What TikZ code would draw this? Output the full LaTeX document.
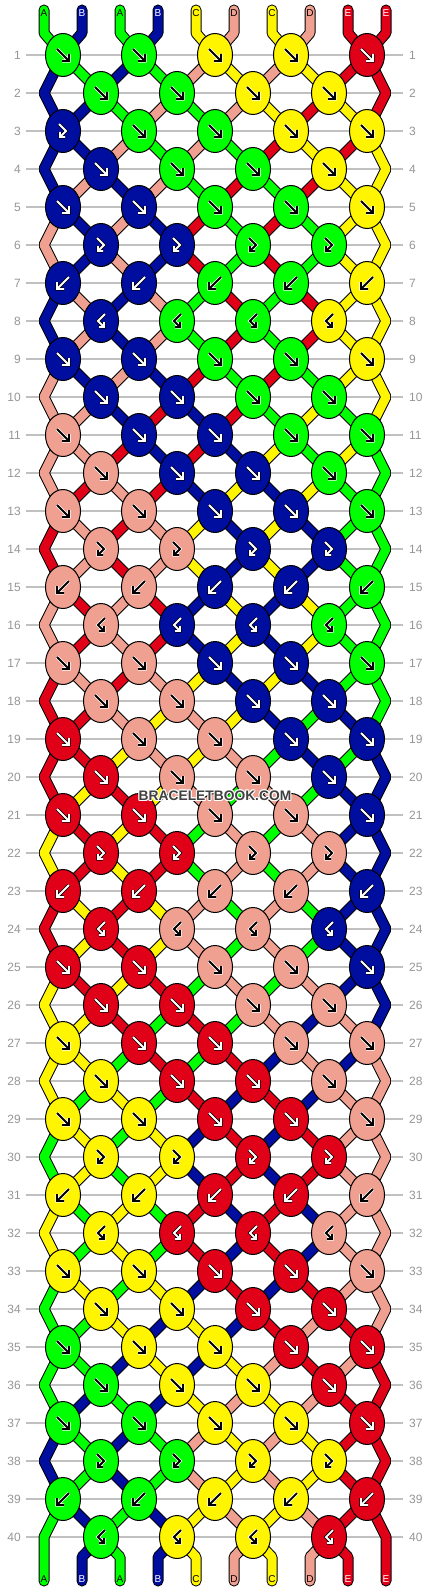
\documentclass[tikz,border=0pt]{standalone}
\usepackage{fontspec}
\setmainfont{Liberation Sans}
\usetikzlibrary{shapes.geometric}
\definecolor{cG}{RGB}{0,255,0}
\definecolor{cN}{RGB}{0,14,160}
\definecolor{cY}{RGB}{255,245,0}
\definecolor{cS}{RGB}{240,160,144}
\definecolor{cR}{RGB}{224,0,24}
\definecolor{aG}{RGB}{0,0,0}
\definecolor{aN}{RGB}{255,255,255}
\definecolor{aY}{RGB}{0,0,0}
\definecolor{aS}{RGB}{0,0,0}
\definecolor{aR}{RGB}{255,255,255}
\definecolor{hG}{RGB}{255,255,255}
\definecolor{hN}{RGB}{0,0,0}
\definecolor{hY}{RGB}{255,255,255}
\definecolor{hS}{RGB}{255,255,255}
\definecolor{hR}{RGB}{0,0,0}
\definecolor{gridgray}{RGB}{192,192,192}
\definecolor{numgray}{RGB}{150,150,150}
\definecolor{wmgray}{RGB}{64,64,64}
\tikzset{
  knot/.style={ellipse, draw=black, line width=1pt, fill=c#1, minimum width=35pt, minimum height=43pt, inner sep=0pt},
  rownum/.style={text=numgray, font=\fontsize{12}{12}\selectfont, inner sep=0pt},
  strlabel/.style={text=a#1, font=\fontsize{10}{10}\selectfont, inner sep=0pt},
  gridline/.style={draw=gridgray, line width=1.2pt},
  wm/.style={font=\bfseries\fontsize{13.8}{14}\selectfont, inner sep=0pt},
}
\newcommand\gpF[1]{\draw[#1] (-6,-6) -- (5,5) (-1,6) -- (6,6) -- (6,-1);}
\newcommand\gpB[1]{\draw[#1] (6,-6) -- (-5,5) (1,6) -- (-6,6) -- (-6,-1);}
\newcommand\gpf[1]{\draw[#1] (-4,-7) -- (3,0) -- (-3,6) (2,6) -- (-3,6) -- (-3,1);}
\newcommand\gpb[1]{\draw[#1] (4,-7) -- (-3,0) -- (3,6) (-2,6) -- (3,6) -- (3,1);}
\newcommand\kglyph[3]{\begin{scope}[shift={(#1)}]%
  \csname gp#2\endcsname{line width=3.4pt, draw=h#3}%
  \csname gp#2\endcsname{line width=1.8pt, draw=a#3}%
  \end{scope}}
\newcommand\drawthreads{%
  \foreach \c [count=\p] in {G,N,G,N,Y,S,Y,S,R,R}{%
    \pgfmathtruncatemacro\ka{(\p+1)/2}%
    \draw[thr=\c] (U-\p) -- (T-\p) -- (P-1-\ka);
  }%
  \foreach \r/\st in {1/{N,G,N,G,S,Y,S,Y,R,R},2/{N,N,G,S,G,S,Y,R,Y,R},3/{N,N,S,G,S,G,R,Y,R,Y},4/{N,S,N,S,G,R,G,R,Y,Y},5/{S,N,S,N,R,G,R,G,Y,Y},6/{S,N,S,N,R,G,R,G,Y,Y},7/{N,S,N,S,G,R,G,R,Y,Y},8/{N,S,N,S,G,R,G,R,Y,Y},9/{S,N,S,N,R,G,R,G,Y,Y},10/{S,S,N,R,N,R,G,Y,G,Y},11/{S,S,R,N,R,N,Y,G,Y,G},12/{S,R,S,R,N,Y,N,Y,G,G},13/{R,S,R,S,Y,N,Y,N,G,G},14/{R,S,R,S,Y,N,Y,N,G,G},15/{S,R,S,R,N,Y,N,Y,G,G},16/{S,R,S,R,N,Y,N,Y,G,G},17/{R,S,R,S,Y,N,Y,N,G,G},18/{R,R,S,Y,S,Y,N,G,N,G},19/{R,R,Y,S,Y,S,G,N,G,N},20/{R,Y,R,Y,S,G,S,G,N,N},21/{Y,R,Y,R,G,S,G,S,N,N},22/{Y,R,Y,R,G,S,G,S,N,N},23/{R,Y,R,Y,S,G,S,G,N,N},24/{R,Y,R,Y,S,G,S,G,N,N},25/{Y,R,Y,R,G,S,G,S,N,N},26/{Y,Y,R,G,R,G,S,N,S,N},27/{Y,Y,G,R,G,R,N,S,N,S},28/{Y,G,Y,G,R,N,R,N,S,S},29/{G,Y,G,Y,N,R,N,R,S,S},30/{G,Y,G,Y,N,R,N,R,S,S},31/{Y,G,Y,G,R,N,R,N,S,S},32/{Y,G,Y,G,R,N,R,N,S,S},33/{G,Y,G,Y,N,R,N,R,S,S},34/{G,G,Y,N,Y,N,R,S,R,S},35/{G,G,N,Y,N,Y,S,R,S,R},36/{G,N,G,N,Y,S,Y,S,R,R},37/{N,G,N,G,S,Y,S,Y,R,R},38/{N,G,N,G,S,Y,S,Y,R,R},39/{G,N,G,N,Y,S,Y,S,R,R}}{%
    \pgfmathtruncatemacro\rn{\r+1}%
    \pgfmathtruncatemacro\rnn{\r+2}%
    \foreach \c [count=\p] in \st {%
      \ifodd\r\relax
        \pgfmathtruncatemacro\ka{(\p+1)/2}%
        \ifnum\p=1\relax
          \ifnum\r=39\relax \def\nxt{W-1}\else\edef\nxt{P-\rnn-1}\fi
          \draw[thr=\c] (P-\r-1) -- (L-\rn) -- (\nxt);
        \else\ifnum\p=10\relax
          \ifnum\r=39\relax \def\nxt{W-10}\else\edef\nxt{P-\rnn-5}\fi
          \draw[thr=\c] (P-\r-5) -- (R-\rn) -- (\nxt);
        \else
          \pgfmathtruncatemacro\kb{\p/2}%
          \draw[thr=\c] (P-\r-\ka) -- (P-\rn-\kb);
        \fi\fi
      \else
        \ifnum\p>1\relax\ifnum\p<10\relax
          \pgfmathtruncatemacro\ka{\p/2}%
          \pgfmathtruncatemacro\kb{(\p+1)/2}%
          \draw[thr=\c] (P-\r-\ka) -- (P-\rn-\kb);
        \fi\fi
      \fi
    }%
  }%
  \foreach \c [count=\p] in {G,N,G,N,Y,S,Y,S,R,R}{%
    \ifnum\p>1\relax\ifnum\p<10\relax
      \pgfmathtruncatemacro\ka{\p/2}%
      \draw[thr=\c] (P-40-\ka) -- (V-\p) -- (W-\p);
    \fi\fi
  }%
}
\begin{document}
\begin{tikzpicture}[x=1pt,y=-1pt]
\useasboundingbox (0,0) rectangle (430,1592);
\fill[white] (0,0) rectangle (430,1592);
% positions
\foreach \r in {1,...,40}{%
  \pgfmathsetmacro\yy{55+38*(\r-1)}%
  \ifodd\r\relax
    \foreach \k in {1,...,5}{\coordinate (P-\r-\k) at ({63+76*(\k-1)},\yy);}
  \else
    \foreach \k in {1,...,4}{\coordinate (P-\r-\k) at ({101+76*(\k-1)},\yy);}
    \coordinate (L-\r) at (44,\yy);
    \coordinate (R-\r) at (386,\yy);
  \fi
}
\foreach \p in {1,...,10}{%
  \pgfmathsetmacro\xx{44+38*(\p-1)}%
  \coordinate (U-\p) at (\xx,10);
  \coordinate (T-\p) at (\xx,33);
  \coordinate (V-\p) at (\xx,1557);
  \coordinate (W-\p) at (\xx,1581);
}
% grid lines and row numbers
\foreach \r in {1,...,40}{%
  \pgfmathsetmacro\yy{55+38*(\r-1)}%
  \coordinate (GL-\r) at (26,\yy);
  \coordinate (GR-\r) at (403,\yy);
  \draw[gridline] (GL-\r) -- (GR-\r);
  \node[rownum, anchor=east] (NL-\r) at (21,\yy) {\r};
  \node[rownum, anchor=west] (NR-\r) at (409,\yy) {\r};
}
% threads: outline pass, then colour pass
\tikzset{thr/.style={draw=black, line width=11pt, line join=bevel, line cap=round}}
\drawthreads
\tikzset{thr/.style={draw=c#1, line width=9pt, line join=bevel, line cap=round}}
\drawthreads
% string labels
\foreach \c/\l [count=\p] in {G/A,N/B,G/A,N/B,Y/C,S/D,Y/C,S/D,R/E,R/E}{%
  \pgfmathsetmacro\xx{44+38*(\p-1)}%
  \node[strlabel=\c] (LT-\p) at (\xx,13) {\l};
  \node[strlabel=\c] (LB-\p) at (\xx,1579) {\l};
}
% knots
\foreach \r/\kl in {1/{F/G,F/G,F/Y,F/Y,F/R},2/{F/G,F/G,F/Y,F/Y},3/{f/N,F/G,F/G,F/Y,F/Y},4/{F/N,F/G,F/G,F/Y},5/{F/N,F/N,F/G,F/G,F/Y},6/{f/N,f/N,f/G,f/G},7/{B/N,B/N,B/G,B/G,B/Y},8/{b/N,b/G,b/G,b/Y},9/{F/N,F/N,F/G,F/G,F/Y},10/{F/N,F/N,F/G,F/G},11/{F/S,F/N,F/N,F/G,F/G},12/{F/S,F/N,F/N,F/G},13/{F/S,F/S,F/N,F/N,F/G},14/{f/S,f/S,f/N,f/N},15/{B/S,B/S,B/N,B/N,B/G},16/{b/S,b/N,b/N,b/G},17/{F/S,F/S,F/N,F/N,F/G},18/{F/S,F/S,F/N,F/N},19/{F/R,F/S,F/S,F/N,F/N},20/{F/R,F/S,F/S,F/N},21/{F/R,F/R,F/S,F/S,F/N},22/{f/R,f/R,f/S,f/S},23/{B/R,B/R,B/S,B/S,B/N},24/{b/R,b/S,b/S,b/N},25/{F/R,F/R,F/S,F/S,F/N},26/{F/R,F/R,F/S,F/S},27/{F/Y,F/R,F/R,F/S,F/S},28/{F/Y,F/R,F/R,F/S},29/{F/Y,F/Y,F/R,F/R,F/S},30/{f/Y,f/Y,f/R,f/R},31/{B/Y,B/Y,B/R,B/R,B/S},32/{b/Y,b/R,b/R,b/S},33/{F/Y,F/Y,F/R,F/R,F/S},34/{F/Y,F/Y,F/R,F/R},35/{F/G,F/Y,F/Y,F/R,F/R},36/{F/G,F/Y,F/Y,F/R},37/{F/G,F/G,F/Y,F/Y,F/R},38/{f/G,f/G,f/Y,f/Y},39/{B/G,B/G,B/Y,B/Y,B/R},40/{b/G,b/Y,b/Y,b/R}}{%
  \foreach \t/\c [count=\k] in \kl {%
    \node[knot=\c] (K-\r-\k) at (P-\r-\k) {};
    \kglyph{P-\r-\k}{\t}{\c}
  }%
}
% watermark
\foreach \dx/\dy [count=\i] in {1/0,-1/0,0/1,0/-1,0.8/0.8,-0.8/0.8,0.8/-0.8,-0.8/-0.8}{%
  \node[wm, text=white] (WMH-\i) at ({215+\dx},{796+\dy}) {BRACELETBOOK.COM};
}
\node[wm, text=wmgray] (WM) at (215,796) {BRACELETBOOK.COM};
\end{tikzpicture}
\end{document}
